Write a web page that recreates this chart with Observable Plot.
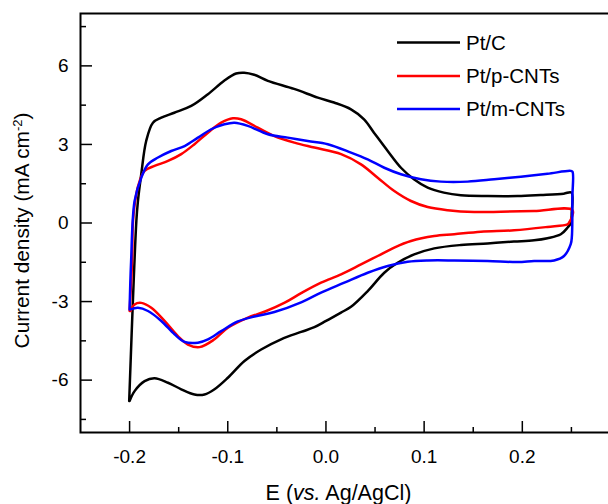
<!DOCTYPE html>
<html><head><meta charset="utf-8">
<script src="https://cdn.jsdelivr.net/npm/d3@7"></script>
<script src="https://cdn.jsdelivr.net/npm/@observablehq/plot@0.6"></script>
<style>
html,body{margin:0;padding:0;overflow:hidden;background:#fff;width:608px;height:504px}
#wrap{position:relative;width:608px;height:504px;overflow:hidden;font-family:"Liberation Sans",Arial,sans-serif}
#chart{position:absolute;left:0;top:0;width:640px}
#chart svg{max-width:none !important;}
#over{position:absolute;left:0;top:0;pointer-events:none}
</style></head>
<body><div id="wrap"><div id="chart"></div>
<svg id="over" width="608" height="504" font-family="Liberation Sans, Arial, sans-serif"></svg></div>
<script>
const seriesNames = ["Pt/C", "Pt/p-CNTs", "Pt/m-CNTs"];
const seriesColors = ["#000000", "#ff0000", "#0000ff"];

const ptcE = [-0.2004,-0.1931,-0.1915,-0.1881,-0.1831,-0.1762,-0.1677,-0.1545,-0.1372,-0.1202,-0.1037,-0.0915,-0.0833,-0.0731,-0.0592,-0.0325,-0.0083,0.0082,0.0255,0.0388,0.0489,0.0629,0.0764,0.0896,0.1036,0.1201,0.1374,0.1646,0.1951,0.2188,0.2422,0.2500,
  0.2503,0.2493,0.2460,0.2392,0.2256,0.2120,0.1914,0.1646,0.1374,0.1103,0.0899,0.0730,0.0594,0.0425,0.0255,0.0153,0.0001,-0.0118,-0.0253,-0.0457,-0.0660,-0.0830,-0.0999,-0.1135,-0.1237,-0.1339,-0.1474,-0.1609,-0.1746,-0.1847,-0.1949,-0.2000];
const ptcJ = [-6.80,0.08,0.84,1.87,3.13,3.83,4.02,4.21,4.47,4.92,5.43,5.71,5.74,5.66,5.43,5.12,4.79,4.60,4.34,3.96,3.45,2.75,2.11,1.67,1.35,1.16,1.06,1.03,1.03,1.07,1.12,1.16,
  0.40,0.0,-0.18,-0.43,-0.58,-0.66,-0.71,-0.78,-0.84,-0.97,-1.20,-1.52,-1.90,-2.60,-3.20,-3.42,-3.74,-3.98,-4.16,-4.44,-4.83,-5.27,-5.91,-6.35,-6.55,-6.55,-6.35,-6.10,-5.93,-6.04,-6.42,-6.80];

const ppE = [-0.2000,-0.1975,-0.1965,-0.1932,-0.1898,-0.1847,-0.1746,-0.1609,-0.1474,-0.1339,-0.1202,-0.1067,-0.0948,-0.0864,-0.0694,-0.0525,-0.0321,-0.0118,0.0154,0.0357,0.0527,0.0696,0.0866,0.1036,0.1239,0.1510,0.1781,0.2120,0.2511,
  0.2476,0.2460,0.2256,0.1917,0.1578,0.1306,0.1103,0.0866,0.0696,0.0527,0.0357,0.0154,-0.0050,-0.0253,-0.0420,-0.0620,-0.0800,-0.0999,-0.1135,-0.1288,-0.1406,-0.1508,-0.1644,-0.1779,-0.1881,-0.1949,-0.1990];
const ppJ = [-3.36,-1.50,0.08,1.10,1.60,1.99,2.18,2.37,2.63,3.01,3.45,3.83,4.00,3.96,3.64,3.32,3.07,2.88,2.63,2.24,1.73,1.22,0.84,0.61,0.49,0.42,0.43,0.46,0.49,
  0.01,-0.05,-0.15,-0.28,-0.33,-0.43,-0.50,-0.69,-0.94,-1.26,-1.58,-1.96,-2.28,-2.68,-3.04,-3.38,-3.62,-4.00,-4.44,-4.74,-4.64,-4.32,-3.74,-3.24,-3.05,-3.11,-3.36];

const pmE = [-0.2000,-0.1985,-0.1949,-0.1881,-0.1813,-0.1711,-0.1576,-0.1440,-0.1304,-0.1169,-0.1034,-0.0932,-0.0796,-0.0592,-0.0389,-0.0185,0.0018,0.0255,0.0425,0.0594,0.0764,0.0967,0.1171,0.1443,0.1713,0.1985,0.2256,0.2493,0.2511,
  0.2510,0.2505,0.2493,0.2425,0.2324,0.2120,0.1951,0.1646,0.1306,0.1036,0.0832,0.0629,0.0425,0.0187,-0.0050,-0.0253,-0.0525,-0.0728,-0.0897,-0.1067,-0.1202,-0.1304,-0.1440,-0.1542,-0.1677,-0.1813,-0.1915,-0.1990];
const pmJ = [-3.30,-1.50,0.84,1.73,2.24,2.50,2.75,2.94,3.26,3.58,3.77,3.83,3.71,3.39,3.26,3.13,3.01,2.69,2.43,2.11,1.86,1.67,1.58,1.58,1.67,1.77,1.88,1.99,1.96,
  1.00,-0.50,-0.81,-1.26,-1.43,-1.45,-1.49,-1.45,-1.43,-1.43,-1.48,-1.64,-1.90,-2.28,-2.66,-3.03,-3.40,-3.57,-3.76,-4.13,-4.44,-4.57,-4.54,-4.25,-3.74,-3.36,-3.24,-3.30];

const xMajor = [-0.2, -0.1, 0.0, 0.1, 0.2];
const xMinor = [-0.15, -0.05, 0.05, 0.15, 0.25];
const yMajor = [-6, -3, 0, 3, 6];
const yMinor = [-7.5, -4.5, -1.5, 1.5, 4.5, 7.5];
const xDomain = [-0.25, 0.3];
const yDomain = [-8, 8];

const rows = [];
[[ptcE, ptcJ], [ppE, ppJ], [pmE, pmJ]].forEach(([E, J], i) => {
  E.forEach((e, k) => rows.push({series: seriesNames[i], E: e, J: J[k]}));
});

const chart = Plot.plot({
  width: 640, height: 504,
  marginLeft: 80, marginRight: 20, marginTop: 13, marginBottom: 72,
  style: {fontFamily: "Liberation Sans, Arial, sans-serif", fontSize: "19px", color: "#000", background: "#fff", maxWidth: "none"},
  x: {domain: xDomain, label: null},
  y: {domain: yDomain, label: null},
  color: {domain: seriesNames, range: seriesColors},
  marks: [
    Plot.line(rows, {x: "E", y: "J", z: "series", stroke: "series", strokeWidth: 2.5, curve: "catmull-rom"}),
    Plot.frame({stroke: "#000", strokeWidth: 2}),
    Plot.axisX(xMajor, {tickSize: -11, tickFormat: () => "", strokeWidth: 1.5}),
    Plot.axisX(xMinor, {tickSize: -5, tickFormat: () => "", strokeWidth: 1.5}),
    Plot.axisX(xMajor, {tickSize: 0, tickPadding: 17, tickFormat: d => d.toFixed(1), fontSize: 19}),
    Plot.axisY(yMajor, {tickSize: -12, tickFormat: () => "", strokeWidth: 1.5}),
    Plot.axisY(yMinor, {tickSize: -6, tickFormat: () => "", strokeWidth: 1.5}),
    Plot.axisY(yMajor, {tickSize: 0, tickPadding: 12, tickFormat: d => String(d), fontSize: 19})
  ]
});
chart.style.maxWidth = "none";
document.getElementById("chart").appendChild(chart);

// legend and axis titles
const over = d3.select("#over");
const legY = [42.5, 76, 109];
seriesNames.forEach((name, i) => {
  over.append("line").attr("x1", 397).attr("x2", 460).attr("y1", legY[i]).attr("y2", legY[i])
    .attr("stroke", seriesColors[i]).attr("stroke-width", 2.5);
  over.append("text").attr("x", 466).attr("y", legY[i]).attr("dy", "0.36em")
    .attr("font-size", 20.5).attr("fill", "#000").text(name);
});
const xt = over.append("text").attr("x", 338.5).attr("y", 500).attr("text-anchor", "middle").attr("font-size", 21.5);
xt.append("tspan").text("E (");
xt.append("tspan").attr("font-style", "italic").text("vs.");
xt.append("tspan").text(" Ag/AgCl)");
const yt = over.append("text").attr("transform", "translate(28.5,230.5) rotate(-90)").attr("text-anchor", "middle").attr("font-size", 20.8);
yt.append("tspan").text("Current density (mA cm");
yt.append("tspan").attr("font-size", 13).attr("baseline-shift", "super").text("-2");
yt.append("tspan").text(")");
</script></body></html>
